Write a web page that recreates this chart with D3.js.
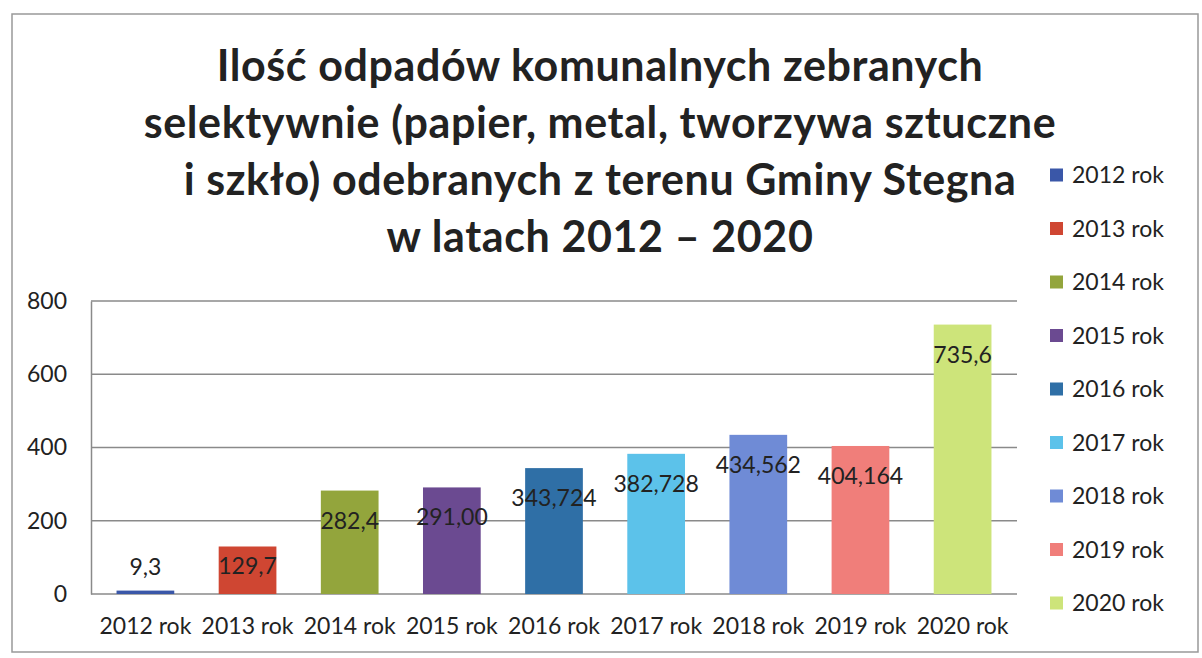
<!DOCTYPE html>
<html>
<head>
<meta charset="utf-8">
<script src="https://cdn.jsdelivr.net/npm/d3@7"></script>
<style>
  body { margin: 0; background: #fff; }
  text { font-family: Lato, "Open Sans", sans-serif; fill: #222; }
</style>
</head>
<body>
<svg id="chart"></svg>
<script>
// data
const years = ["2012 rok", "2013 rok", "2014 rok", "2015 rok", "2016 rok",
               "2017 rok", "2018 rok", "2019 rok", "2020 rok"];
const values = [9.3, 129.7, 282.4, 291.0, 343.724, 382.728, 434.562, 404.164, 735.6];
const valueLabels = ["9,3", "129,7", "282,4", "291,00", "343,724",
                     "382,728", "434,562", "404,164", "735,6"];
const barColors = ["#3a57a8", "#cf4632", "#93a53c", "#6b4a91", "#2f6fa6",
                   "#5cc2ea", "#6f8bd6", "#f07e7a", "#cde47a"];
const yTicks = [0, 200, 400, 600, 800];
const titleLines = [
  "Ilość odpadów komunalnych zebranych",
  "selektywnie (papier, metal, tworzywa sztuczne",
  "i szkło) odebranych z terenu Gminy Stegna",
  "w latach 2012 – 2020"
];

const size = { width: 1202, height: 658 };
const plot = { left: 91, right: 1017, top: 301, bottom: 594 };

const svg = d3.select("#chart")
    .attr("width", size.width)
    .attr("height", size.height);

// outer frame
svg.append("rect")
    .attr("x", 12).attr("y", 14)
    .attr("width", 1186).attr("height", 638)
    .attr("fill", "none")
    .attr("stroke", "#999")
    .attr("stroke-width", 1.5);

// title
svg.append("g").attr("class", "title")
  .selectAll("text")
  .data(titleLines)
  .join("text")
    .attr("x", 600)
    .attr("y", (d, i) => 81 + i * 57)
    .attr("text-anchor", "middle")
    .attr("font-weight", "bold")
    .attr("font-size", 43)
    .attr("letter-spacing", 0.6)
    .text(d => d);

const x = d3.scaleBand()
    .domain(years)
    .range([plot.left, plot.right])
    .paddingInner(0.435)
    .paddingOuter(0.25);

const y = d3.scaleLinear()
    .domain([0, 800])
    .range([plot.bottom, plot.top]);

// grid lines
svg.append("g").attr("class", "grid")
  .selectAll("line")
  .data(yTicks)
  .join("line")
    .attr("x1", plot.left).attr("x2", plot.right)
    .attr("y1", d => y(d)).attr("y2", d => y(d))
    .attr("stroke", "#8a8a8a")
    .attr("stroke-width", 1.5);

// y axis
const yAxis = d3.axisLeft(y).tickValues(yTicks).tickSize(0).tickPadding(24);
const yG = svg.append("g")
    .attr("transform", `translate(${plot.left},0)`)
    .call(yAxis);
yG.select(".domain").attr("stroke", "#8a8a8a").attr("stroke-width", 1.5);
yG.selectAll("text")
    .attr("font-size", 23)
    .attr("font-family", "Lato, sans-serif")
    .attr("fill", "#222");

// x axis
const xAxis = d3.axisBottom(x).tickSize(0).tickPadding(24);
const xG = svg.append("g")
    .attr("transform", `translate(0,${plot.bottom})`)
    .call(xAxis);
xG.select(".domain").remove();
xG.selectAll("text")
    .attr("font-size", 23)
    .attr("font-family", "Lato, sans-serif")
    .attr("fill", "#222");

// bars
svg.append("g").attr("class", "bars")
  .selectAll("rect")
  .data(values)
  .join("rect")
    .attr("x", (d, i) => x(years[i]))
    .attr("y", d => y(d))
    .attr("width", x.bandwidth())
    .attr("height", d => y(0) - y(d))
    .attr("fill", (d, i) => barColors[i]);

// value labels
const labelY = d => {
  const h = y(0) - y(d);
  if (h > 70) return y(d) + 30;
  if (h > 30) return y(d) + h * 0.42;
  return y(d) - 24;
};
svg.append("g").attr("class", "labels")
  .selectAll("text")
  .data(values)
  .join("text")
    .attr("x", (d, i) => x(years[i]) + x.bandwidth() / 2)
    .attr("y", labelY)
    .attr("dy", "0.35em")
    .attr("text-anchor", "middle")
    .attr("font-size", 23)
    .text((d, i) => valueLabels[i]);

// legend
const ly = d3.scalePoint().domain(years).range([175, 603]);
const legend = svg.append("g").attr("class", "legend")
  .selectAll("g")
  .data(years)
  .join("g")
    .attr("transform", d => `translate(1050,${ly(d)})`);
legend.append("rect")
    .attr("x", 0).attr("y", -6.5)
    .attr("width", 13).attr("height", 13)
    .attr("fill", (d, i) => barColors[i]);
legend.append("text")
    .attr("x", 22)
    .attr("dy", "0.35em")
    .attr("font-size", 23)
    .text(d => d);
</script>
</body>
</html>
